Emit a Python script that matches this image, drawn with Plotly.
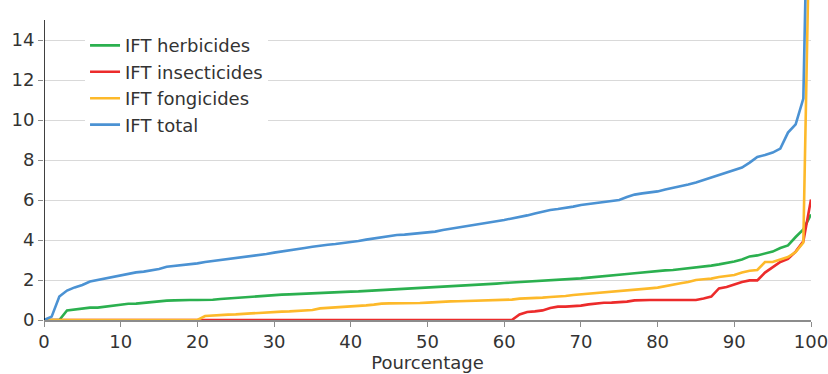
import plotly.graph_objects as go

pourcentage = list(range(0, 101))

ift_herbicides = [
    0, 0, 0, 0.48, 0.53, 0.6, 0.62, 0.62, 0.67, 0.74,
    0.78, 0.81, 0.82, 0.86, 0.9, 0.93, 0.97, 0.98, 1.0, 1.0,
    1.0, 1.0, 1.01, 1.05, 1.08, 1.12, 1.15, 1.18, 1.2, 1.22,
    1.25, 1.27, 1.28, 1.3, 1.32, 1.35, 1.36, 1.37, 1.38, 1.4,
    1.42, 1.43, 1.45, 1.47, 1.5, 1.52, 1.54, 1.56, 1.58, 1.6,
    1.63, 1.65, 1.67, 1.69, 1.71, 1.73, 1.75, 1.77, 1.8, 1.82,
    1.85, 1.87, 1.9, 1.92, 1.95, 1.97, 1.99, 2.0, 2.02, 2.05,
    2.08, 2.12, 2.15, 2.18, 2.22, 2.27, 2.3, 2.34, 2.38, 2.42,
    2.45, 2.48, 2.5, 2.54, 2.58, 2.62, 2.67, 2.72, 2.78, 2.85,
    2.92, 3.03, 3.18, 3.23, 3.32, 3.42, 3.6, 3.73, 4.15, 4.53,
    5.28,
]

ift_insecticides = [
    0, 0, 0, 0, 0, 0, 0, 0, 0, 0,
    0, 0, 0, 0, 0, 0, 0, 0, 0, 0,
    0, 0, 0, 0, 0, 0, 0, 0, 0, 0,
    0, 0, 0, 0, 0, 0, 0, 0, 0, 0,
    0, 0, 0, 0, 0, 0, 0, 0, 0, 0,
    0, 0, 0, 0, 0, 0, 0, 0, 0, 0,
    0, 0, 0.28, 0.4, 0.43, 0.48, 0.6, 0.67, 0.67, 0.68,
    0.72, 0.78, 0.83, 0.86, 0.87, 0.88, 0.92, 0.98, 1.0, 1.0,
    1.0, 1.0, 1.0, 1.0, 1.0, 1.0, 1.07, 1.17, 1.58, 1.65,
    1.78, 1.9, 1.98, 1.98, 2.37, 2.62, 2.9, 3.05, 3.42, 3.93,
    6.02,
]

ift_fongicides = [
    0, 0, 0, 0, 0, 0, 0, 0, 0, 0,
    0, 0, 0, 0, 0, 0, 0, 0, 0, 0,
    0, 0.2, 0.23, 0.25, 0.27, 0.28, 0.32, 0.33, 0.35, 0.38,
    0.4, 0.42, 0.43, 0.45, 0.47, 0.5, 0.58, 0.6, 0.62, 0.65,
    0.68, 0.7, 0.73, 0.77, 0.82, 0.83, 0.83, 0.83, 0.83, 0.85,
    0.87, 0.9, 0.92, 0.93, 0.94, 0.95, 0.97, 1.0, 1.0, 1.0,
    1.0, 1.02, 1.07, 1.08, 1.1, 1.12, 1.15, 1.17, 1.2, 1.25,
    1.28, 1.32, 1.37, 1.4, 1.42, 1.45, 1.48, 1.5, 1.54, 1.58,
    1.62, 1.7, 1.78, 1.84, 1.9, 2.0, 2.04, 2.07, 2.15, 2.2,
    2.25, 2.37, 2.46, 2.5, 2.9, 2.9, 3.03, 3.15, 3.4, 3.87,
    24.0,
]

ift_total = [
    0, 0.17, 1.17, 1.47, 1.63, 1.75, 1.92, 2.0, 2.06, 2.13,
    2.22, 2.32, 2.38, 2.42, 2.48, 2.55, 2.66, 2.7, 2.74, 2.78,
    2.83, 2.9, 2.95, 3.0, 3.03, 3.08, 3.13, 3.2, 3.25, 3.3,
    3.37, 3.42, 3.47, 3.55, 3.6, 3.66, 3.72, 3.76, 3.8, 3.84,
    3.88, 3.95, 4.02, 4.08, 4.15, 4.2, 4.25, 4.27, 4.3, 4.33,
    4.37, 4.42, 4.5, 4.56, 4.62, 4.67, 4.73, 4.79, 4.85, 4.92,
    5.0, 5.08, 5.15, 5.23, 5.33, 5.43, 5.5, 5.55, 5.6, 5.67,
    5.75, 5.8, 5.85, 5.9, 5.95, 6.0, 6.15, 6.27, 6.33, 6.38,
    6.43, 6.52, 6.6, 6.68, 6.78, 6.88, 7.0, 7.12, 7.25, 7.37,
    7.5, 7.62, 7.87, 8.15, 8.25, 8.37, 8.57, 9.37, 9.78, 11.07,
    30.0,
]

y_ticks = [0, 2, 4, 6, 8, 10, 12, 14]
x_ticks = [0, 10, 20, 30, 40, 50, 60, 70, 80, 90, 100]

series = [
    ("IFT herbicides", ift_herbicides, "#2bb04f"),
    ("IFT insecticides", ift_insecticides, "#ec2b2b"),
    ("IFT fongicides", ift_fongicides, "#fdb92a"),
    ("IFT total", ift_total, "#4b92d3"),
]

fam = "DejaVu Sans, Verdana, sans-serif"
txt = "#333333"

fig = go.Figure()
for name, vals, color in series:
    fig.add_trace(go.Scatter(
        x=pourcentage, y=vals, mode="lines", name=name,
        line=dict(color=color, width=2.6),
    ))

fig.update_layout(
    width=828, height=374,
    margin=dict(l=44, r=17, t=0, b=54),
    paper_bgcolor="white", plot_bgcolor="white",
    font=dict(family=fam, size=18, color=txt),
    showlegend=True,
    legend=dict(
        x=0.0535, y=0.915, xanchor="left", yanchor="top",
        bgcolor="white", borderwidth=0,
        font=dict(family=fam, size=18, color=txt),
        tracegroupgap=0,
    ),
    xaxis=dict(
        range=[0, 100], tickvals=x_ticks, ticktext=[str(v) for v in x_ticks],
        showgrid=False, zeroline=False, automargin=False,
        showline=True, linecolor="#8c8c8c", linewidth=1.5,
        ticks="outside", ticklen=5, tickcolor="#8c8c8c",
        ticklabeloverflow="allow",
        tickfont=dict(family=fam, size=18, color=txt),
        title=dict(text="Pourcentage", standoff=4,
                   font=dict(family=fam, size=18, color=txt)),
    ),
    yaxis=dict(
        range=[0, 16], tickvals=y_ticks, ticktext=[str(v) for v in y_ticks],
        showgrid=True, gridcolor="#d9d9d9", gridwidth=1,
        zeroline=False, showline=False, automargin=False,
        ticks="outside", ticklen=5, tickcolor="#8c8c8c",
        tickfont=dict(family=fam, size=18, color=txt),
    ),
)

fig.add_shape(type="line", xref="x", yref="y", x0=0, x1=0, y0=0, y1=15,
              line=dict(color="black", width=1.5), layer="above")

fig.write_html(
    "out.html",
    config={"displayModeBar": False},
    post_script="document.body.style.margin='0';document.body.style.overflow='hidden';",
)
